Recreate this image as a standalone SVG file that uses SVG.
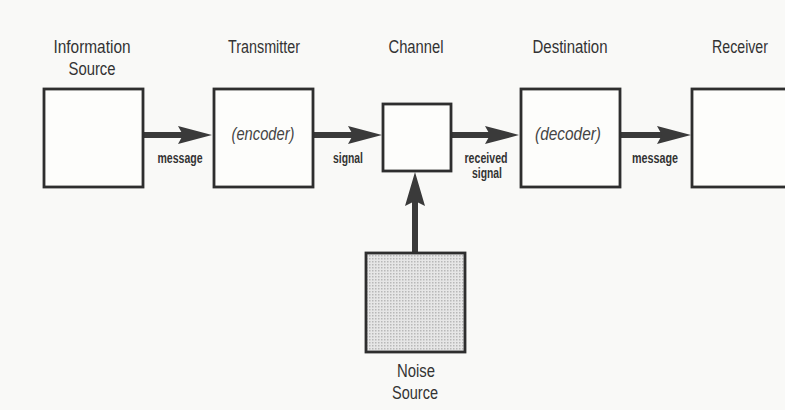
<svg xmlns="http://www.w3.org/2000/svg" width="785" height="410" viewBox="0 0 785 410">
<style>
.box{fill:#fdfdfb;stroke:#2e2e2e;stroke-width:2.8}
.lbl{font-family:"Liberation Sans",Arial,sans-serif;font-size:17.5px;fill:#333;text-anchor:middle}
.sm{font-family:"Liberation Sans",Arial,sans-serif;font-size:14px;font-weight:bold;fill:#333;text-anchor:middle}
.it{font-family:"Liberation Sans",Arial,sans-serif;font-size:18px;fill:#444;text-anchor:middle;font-style:italic}
.shaft{stroke:#3a3a3a;stroke-width:6;fill:none}
.head{fill:#3a3a3a}
</style>
<defs>
<pattern id="dots" width="3" height="3" patternUnits="userSpaceOnUse">
<rect width="3" height="3" fill="#e6e6e6"/>
<rect width="1.5" height="1.5" fill="#b8b8b8"/>
</pattern>
</defs>
<rect width="785" height="410" fill="#f9f9f7"/>
<g id="connectors">
<line class="shaft" x1="144" y1="135" x2="184" y2="135"/>
<path class="head" d="M212,135 L178,126 L183,135 L178,144 Z"/>
<line class="shaft" x1="314" y1="135" x2="356" y2="135"/>
<path class="head" d="M382,135 L348,126 L353,135 L348,144 Z"/>
<line class="shaft" x1="452" y1="135" x2="492" y2="135"/>
<path class="head" d="M519,135 L485,126 L490,135 L485,144 Z"/>
<line class="shaft" x1="621" y1="135" x2="664" y2="135"/>
<path class="head" d="M691,135 L657,126 L662,135 L657,144 Z"/>
<line class="shaft" x1="415" y1="252" x2="415" y2="200"/>
<path class="head" d="M415,172 L405,206 L415,201 L425,206 Z"/>
<text class="sm" x="180" y="163" textLength="45" lengthAdjust="spacingAndGlyphs">message</text>
<text class="sm" x="348" y="163" textLength="30" lengthAdjust="spacingAndGlyphs">signal</text>
<text class="sm" x="486" y="163" textLength="43" lengthAdjust="spacingAndGlyphs">received</text>
<text class="sm" x="487" y="178" textLength="30" lengthAdjust="spacingAndGlyphs">signal</text>
<text class="sm" x="655" y="163" textLength="46" lengthAdjust="spacingAndGlyphs">message</text>
</g>
<g id="info-source">
<rect class="box" x="44" y="89" width="99" height="98"/>
<text class="lbl" x="92" y="53" textLength="77" lengthAdjust="spacingAndGlyphs">Information</text>
<text class="lbl" x="92" y="75" textLength="47" lengthAdjust="spacingAndGlyphs">Source</text>
</g>
<g id="transmitter">
<rect class="box" x="214" y="89" width="99" height="98"/>
<text class="lbl" x="264" y="53" textLength="72" lengthAdjust="spacingAndGlyphs">Transmitter</text>
<text class="it" x="263" y="140" textLength="63" lengthAdjust="spacingAndGlyphs">(encoder)</text>
</g>
<g id="channel">
<rect class="box" x="383" y="104" width="68" height="67"/>
<text class="lbl" x="416" y="53" textLength="55" lengthAdjust="spacingAndGlyphs">Channel</text>
</g>
<g id="destination">
<rect class="box" x="521" y="89" width="99" height="98"/>
<text class="lbl" x="570" y="53" textLength="75" lengthAdjust="spacingAndGlyphs">Destination</text>
<text class="it" x="568" y="140" textLength="66" lengthAdjust="spacingAndGlyphs">(decoder)</text>
</g>
<g id="receiver">
<rect class="box" x="692" y="89" width="110" height="98"/>
<text class="lbl" x="740" y="53" textLength="56" lengthAdjust="spacingAndGlyphs">Receiver</text>
</g>
<g id="noise-source">
<rect class="box" x="366" y="253" width="99" height="99" style="fill:url(#dots)"/>
<text class="lbl" x="416" y="377" textLength="38" lengthAdjust="spacingAndGlyphs">Noise</text>
<text class="lbl" x="415" y="399" textLength="46" lengthAdjust="spacingAndGlyphs">Source</text>
</g>
</svg>
